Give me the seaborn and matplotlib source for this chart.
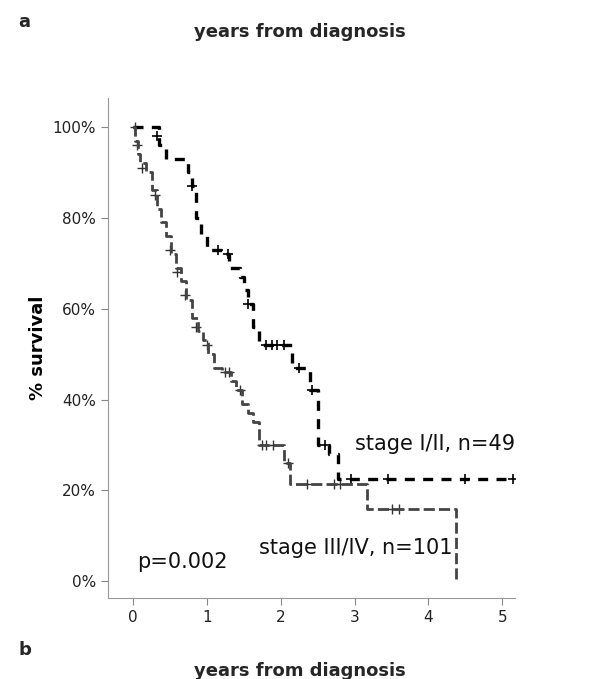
import numpy as np
import pandas as pd
import matplotlib
matplotlib.use("Agg")
import matplotlib.pyplot as plt
import seaborn as sns

# step function data (years, % survival)
early_t = [0, 0.28, 0.35, 0.45, 0.75, 0.8, 0.85, 0.92, 1.0, 1.2, 1.3, 1.45, 1.5, 1.55, 1.62, 1.7, 2.15, 2.4, 2.5, 2.65, 2.77, 5.2]
early_s = [100, 100, 96, 93, 90, 87, 80, 76, 73, 72, 69, 67, 64, 61, 56, 52, 47, 42, 30, 28, 22.5, 22.5]
early_cens_t = [0.32, 0.8, 1.15, 1.28, 1.55, 1.8, 1.88, 1.95, 2.05, 2.25, 2.42, 2.6, 2.95, 3.45, 4.5, 5.15]
early_cens_s = [98, 87, 73, 72, 61, 52, 52, 52, 52, 47, 42, 30, 22.5, 22.5, 22.5, 22.5]

late_t = [0, 0.03, 0.06, 0.1, 0.17, 0.25, 0.32, 0.38, 0.45, 0.52, 0.58, 0.65, 0.72, 0.8, 0.88, 0.95, 1.02, 1.1, 1.2, 1.33, 1.4, 1.47, 1.55, 1.62, 1.7, 2.05, 2.12, 2.17, 3.17, 4.38, 4.38]
late_s = [100, 97, 94, 92, 90, 86, 82, 79, 76, 72, 69, 66, 62, 58, 55, 53, 50, 47, 46, 44, 42, 39, 37, 35, 30, 26, 21.5, 21.5, 16, 16, 0]
late_cens_t = [0.02, 0.05, 0.12, 0.3, 0.5, 0.6, 0.7, 0.85, 1.0, 1.25, 1.3, 1.45, 1.75, 1.8, 1.9, 2.1, 2.35, 2.72, 2.8, 3.5, 3.6]
late_cens_s = [100, 96, 91, 85, 73, 68, 63, 56, 52, 46, 46, 42, 30, 30, 30, 26, 21.5, 21.5, 21.5, 16, 16]

sns.set_style("white")
fig, ax = plt.subplots(figsize=(6, 6.79), dpi=100)
fig.subplots_adjust(left=0.18, right=0.858, top=0.856, bottom=0.119)

sns.lineplot(x=early_t, y=early_s, ax=ax, drawstyle="steps-post", color="black",
             lw=2.4, linestyle=(0, (3, 2.5)), estimator=None, sort=False)
sns.lineplot(x=late_t, y=late_s, ax=ax, drawstyle="steps-post", color="#444444",
             lw=2.0, linestyle=(0, (4, 1.5)), estimator=None, sort=False)
sns.scatterplot(x=early_cens_t, y=early_cens_s, ax=ax, marker="+", color="black", s=50, linewidth=1.2)
sns.scatterplot(x=late_cens_t, y=late_cens_s, ax=ax, marker="+", color="#333333", s=50, linewidth=1.0)

ax.set_xlim(-0.34, 5.17)
ax.set_ylim(-3.7, 106.4)
ax.set_xticks([0, 1, 2, 3, 4, 5])
ax.set_yticks([0, 20, 40, 60, 80, 100])
ax.set_yticklabels([f"{v}%" for v in [0, 20, 40, 60, 80, 100]])
ax.tick_params(axis="both", which="both", direction="out", length=5, color="#888888",
               labelsize=11, labelcolor="#222222", left=True, bottom=True)
for s in ["top", "right"]:
    ax.spines[s].set_visible(False)
for s in ["left", "bottom"]:
    ax.spines[s].set_color("#999999")

ax.set_ylabel("% survival", fontsize=13, fontweight="bold", color="black")
ax.text(3.0, 29, "stage I/II, n=49", fontsize=15, color="#111111")
ax.text(1.7, 6, "stage III/IV, n=101", fontsize=15, color="#111111")
ax.text(0.05, 3, "p=0.002", fontsize=15, color="#111111")

fig.text(0.5, 0.945, "years from diagnosis", fontsize=13, fontweight="bold", ha="center")
fig.text(0.5, 0.005, "years from diagnosis", fontsize=13, fontweight="bold", ha="center")
fig.text(0.03, 0.96, "a", fontsize=13, fontweight="bold")
fig.text(0.03, 0.035, "b", fontsize=13, fontweight="bold")

fig.savefig("out.png", dpi=100)
